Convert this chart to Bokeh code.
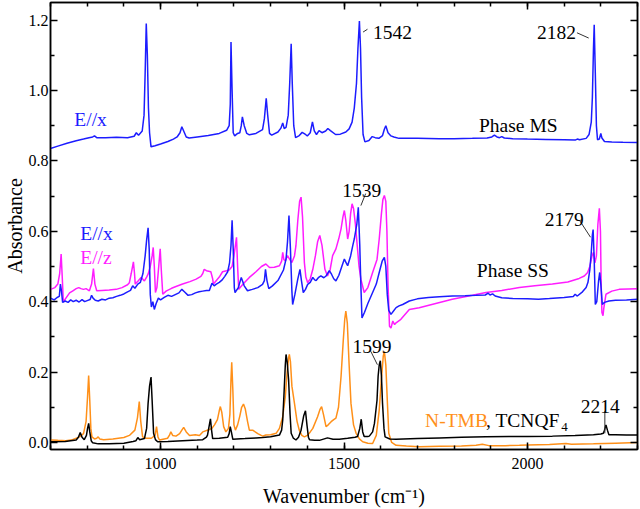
from bokeh.plotting import figure
from bokeh.models import FixedTicker, LinearAxis, PrintfTickFormatter, Range1d
from bokeh.core.properties import value
from bokeh.embed import file_html
from bokeh.resources import INLINE

FONT = "Liberation Serif"

BLUE = "#1c1cff"
MAGENTA = "#ff1cff"
ORANGE = "#ff9019"
BLACK = "#000000"

# ---------------- spectra: (wavenumber / cm^-1, absorbance) ----------------
# Phase MS, E//x
ms_ex = [
    (700, 0.835), (720, 0.842), (745, 0.850), (770, 0.857), (790, 0.862), (805, 0.866),
    (815, 0.868), (820, 0.871), (826, 0.866), (850, 0.866), (880, 0.867), (910, 0.866),
    (928, 0.870), (934, 0.880), (940, 0.873), (950, 0.885), (955, 0.930), (958, 1.050),
    (961, 1.190), (964, 1.100), (967, 0.950), (970, 0.880), (974, 0.840), (985, 0.843),
    (1000, 0.848), (1020, 0.855), (1035, 0.862), (1045, 0.868), (1053, 0.880), (1058, 0.897),
    (1063, 0.885), (1070, 0.868), (1078, 0.865), (1100, 0.868), (1130, 0.872), (1160, 0.878),
    (1180, 0.887), (1187, 0.900), (1190, 0.960), (1192, 1.138), (1195, 1.000), (1198, 0.880),
    (1202, 0.871), (1210, 0.878), (1216, 0.880), (1220, 0.900), (1223, 0.925), (1228, 0.900),
    (1235, 0.878), (1242, 0.874), (1260, 0.878), (1278, 0.889), (1283, 0.920), (1288, 0.978),
    (1292, 0.930), (1297, 0.878), (1303, 0.873), (1320, 0.882), (1328, 0.893), (1333, 0.908),
    (1337, 0.892), (1342, 0.895), (1348, 0.930), (1352, 1.020), (1356, 1.133), (1359, 1.020),
    (1363, 0.900), (1368, 0.866), (1378, 0.872), (1386, 0.881), (1395, 0.875), (1400, 0.871),
    (1408, 0.880), (1414, 0.911), (1419, 0.885), (1425, 0.875), (1432, 0.886), (1440, 0.880),
    (1450, 0.885), (1456, 0.892), (1463, 0.886), (1477, 0.875), (1490, 0.876), (1505, 0.882),
    (1514, 0.891), (1522, 0.910), (1528, 0.950), (1534, 1.020), (1538, 1.120), (1542, 1.197),
    (1545, 1.120), (1548, 0.980), (1552, 0.875), (1557, 0.854), (1568, 0.858), (1577, 0.869),
    (1585, 0.866), (1595, 0.864), (1605, 0.872), (1610, 0.890), (1614, 0.900), (1620, 0.880),
    (1628, 0.871), (1636, 0.868), (1650, 0.864), (1700, 0.864), (1760, 0.863), (1800, 0.863),
    (1850, 0.864), (1890, 0.865), (1903, 0.868), (1910, 0.873), (1917, 0.868), (1924, 0.866),
    (1930, 0.869), (1937, 0.865), (1960, 0.863), (2000, 0.862), (2050, 0.861), (2100, 0.860),
    (2130, 0.859), (2136, 0.862), (2142, 0.860), (2160, 0.864), (2168, 0.875), (2174, 0.910),
    (2177, 0.980), (2180, 1.120), (2182, 1.187), (2185, 1.050), (2188, 0.900), (2191, 0.860),
    (2196, 0.862), (2200, 0.878), (2203, 0.865), (2210, 0.855), (2230, 0.854), (2260, 0.853),
    (2300, 0.852),
]

# Phase SS, E//x
ss_ex = [
    (700, 0.410), (710, 0.405), (718, 0.412), (724, 0.415), (727, 0.450), (730, 0.430),
    (733, 0.398), (740, 0.402), (748, 0.398), (755, 0.405), (762, 0.400), (770, 0.404),
    (778, 0.399), (786, 0.406), (793, 0.400), (800, 0.403), (808, 0.406), (812, 0.418),
    (816, 0.410), (822, 0.404), (830, 0.402), (840, 0.407), (850, 0.405), (860, 0.410),
    (870, 0.411), (880, 0.415), (890, 0.418), (900, 0.422), (910, 0.428), (918, 0.432),
    (924, 0.445), (930, 0.438), (938, 0.450), (945, 0.455), (952, 0.480), (958, 0.530),
    (962, 0.575), (966, 0.610), (969, 0.550), (972, 0.420), (975, 0.385), (979, 0.400),
    (983, 0.378), (988, 0.395), (994, 0.410), (1000, 0.405), (1010, 0.412), (1020, 0.418),
    (1030, 0.415), (1040, 0.420), (1050, 0.425), (1058, 0.435), (1065, 0.428), (1075, 0.418),
    (1085, 0.420), (1095, 0.425), (1105, 0.428), (1115, 0.430), (1125, 0.432), (1133, 0.432),
    (1140, 0.452), (1146, 0.445), (1152, 0.450), (1160, 0.455), (1168, 0.462), (1175, 0.472),
    (1183, 0.485), (1188, 0.510), (1192, 0.560), (1195, 0.631), (1198, 0.550), (1201, 0.440),
    (1203, 0.426), (1212, 0.440), (1220, 0.469), (1228, 0.445), (1237, 0.431), (1250, 0.435),
    (1265, 0.440), (1278, 0.449), (1283, 0.460), (1286, 0.492), (1290, 0.460), (1295, 0.437),
    (1305, 0.445), (1320, 0.460), (1335, 0.490), (1342, 0.521), (1346, 0.570), (1350, 0.645),
    (1354, 0.550), (1358, 0.430), (1360, 0.392), (1366, 0.420), (1374, 0.464), (1380, 0.492),
    (1384, 0.460), (1389, 0.426), (1395, 0.435), (1401, 0.449), (1408, 0.455), (1415, 0.469),
    (1420, 0.462), (1424, 0.460), (1430, 0.468), (1437, 0.473), (1445, 0.468), (1451, 0.473),
    (1460, 0.488), (1466, 0.478), (1472, 0.465), (1478, 0.459), (1486, 0.475), (1494, 0.500),
    (1501, 0.521), (1506, 0.510), (1510, 0.502), (1518, 0.530), (1524, 0.560), (1528, 0.578),
    (1535, 0.620), (1539, 0.668), (1543, 0.560), (1546, 0.445), (1549, 0.354), (1556, 0.370),
    (1565, 0.395), (1578, 0.426), (1588, 0.450), (1596, 0.483), (1604, 0.515), (1610, 0.526),
    (1614, 0.500), (1618, 0.420), (1622, 0.375), (1628, 0.364), (1636, 0.375), (1642, 0.383),
    (1650, 0.388), (1660, 0.392), (1678, 0.402), (1700, 0.408), (1730, 0.412), (1760, 0.414),
    (1795, 0.416), (1830, 0.417), (1860, 0.418), (1885, 0.419), (1893, 0.424), (1898, 0.419),
    (1905, 0.422), (1912, 0.416), (1930, 0.411), (1960, 0.409), (2000, 0.408), (2030, 0.407),
    (2060, 0.409), (2100, 0.412), (2125, 0.415), (2130, 0.421), (2136, 0.416), (2150, 0.428),
    (2160, 0.440), (2165, 0.455), (2170, 0.490), (2174, 0.540), (2177, 0.590), (2179, 0.605),
    (2182, 0.520), (2185, 0.392), (2189, 0.400), (2194, 0.460), (2197, 0.483), (2200, 0.450),
    (2204, 0.392), (2210, 0.398), (2222, 0.402), (2240, 0.404), (2270, 0.405), (2300, 0.407),
]

# Phase SS, E//z
ss_ez = [
    (700, 0.435), (712, 0.440), (720, 0.450), (725, 0.480), (729, 0.535), (732, 0.470),
    (735, 0.399), (742, 0.410), (752, 0.425), (761, 0.431), (770, 0.437), (777, 0.440),
    (783, 0.437), (790, 0.435), (797, 0.437), (806, 0.431), (812, 0.450), (817, 0.494),
    (821, 0.450), (826, 0.431), (840, 0.432), (860, 0.433), (879, 0.435), (895, 0.440),
    (910, 0.448), (915, 0.454), (920, 0.480), (926, 0.513), (929, 0.480), (931, 0.450),
    (940, 0.460), (947, 0.469), (953, 0.462), (956, 0.459), (962, 0.470), (966, 0.478),
    (972, 0.500), (977, 0.530), (980, 0.554), (983, 0.500), (986, 0.426), (990, 0.440),
    (995, 0.500), (999, 0.550), (1002, 0.490), (1006, 0.421), (1015, 0.430), (1030, 0.438),
    (1042, 0.443), (1060, 0.450), (1080, 0.457), (1097, 0.464), (1110, 0.472), (1115, 0.480),
    (1119, 0.492), (1125, 0.488), (1137, 0.485), (1142, 0.465), (1144, 0.450), (1151, 0.459),
    (1160, 0.470), (1169, 0.485), (1180, 0.488), (1187, 0.490), (1195, 0.500), (1200, 0.530),
    (1204, 0.560), (1207, 0.583), (1210, 0.500), (1213, 0.435), (1225, 0.450), (1242, 0.469),
    (1260, 0.485), (1275, 0.500), (1287, 0.507), (1297, 0.497), (1310, 0.498), (1324, 0.502),
    (1330, 0.515), (1333, 0.540), (1336, 0.520), (1340, 0.516), (1346, 0.531), (1352, 0.520),
    (1358, 0.511), (1365, 0.530), (1369, 0.559), (1374, 0.630), (1379, 0.685), (1383, 0.697),
    (1387, 0.640), (1392, 0.511), (1396, 0.470), (1401, 0.454), (1408, 0.465), (1415, 0.492),
    (1422, 0.530), (1428, 0.570), (1434, 0.588), (1440, 0.560), (1448, 0.492), (1455, 0.473),
    (1462, 0.490), (1469, 0.531), (1478, 0.550), (1486, 0.580), (1492, 0.607), (1497, 0.640),
    (1501, 0.659), (1505, 0.630), (1510, 0.578), (1514, 0.600), (1518, 0.650), (1522, 0.678),
    (1526, 0.665), (1531, 0.621), (1536, 0.560), (1541, 0.500), (1546, 0.464), (1555, 0.426),
    (1565, 0.440), (1578, 0.483), (1590, 0.520), (1596, 0.578), (1602, 0.650), (1606, 0.690),
    (1610, 0.702), (1614, 0.685), (1617, 0.600), (1620, 0.450), (1624, 0.330), (1628, 0.325),
    (1633, 0.345), (1638, 0.335), (1642, 0.340), (1655, 0.350), (1678, 0.378), (1705, 0.383),
    (1750, 0.395), (1795, 0.407), (1850, 0.418), (1887, 0.426), (1930, 0.432), (1978, 0.440),
    (2020, 0.445), (2068, 0.450), (2110, 0.456), (2141, 0.466), (2155, 0.473), (2164, 0.483),
    (2170, 0.500), (2176, 0.530), (2180, 0.540), (2184, 0.510), (2188, 0.530), (2192, 0.620),
    (2196, 0.665), (2199, 0.600), (2201, 0.450), (2203, 0.369), (2206, 0.360), (2208, 0.380),
    (2214, 0.421), (2230, 0.430), (2250, 0.435), (2300, 0.437),
]

# N-TMB reference
ntmb = [
    (700, 0.007), (720, 0.006), (742, 0.005), (760, 0.008), (779, 0.016), (790, 0.025),
    (797, 0.060), (801, 0.130), (804, 0.190), (807, 0.120), (810, 0.040), (813, 0.016),
    (820, 0.010), (826, 0.012), (830, 0.016), (834, 0.010), (845, 0.008), (870, 0.010),
    (900, 0.014), (915, 0.020), (930, 0.035), (937, 0.070), (942, 0.116), (946, 0.060),
    (951, 0.016), (960, 0.012), (975, 0.012), (985, 0.020), (989, 0.045), (993, 0.015),
    (997, 0.007), (1010, 0.010), (1019, 0.012), (1024, 0.020), (1028, 0.030), (1033, 0.020),
    (1042, 0.018), (1052, 0.025), (1058, 0.035), (1063, 0.043), (1070, 0.030), (1079, 0.020),
    (1095, 0.022), (1106, 0.020), (1115, 0.030), (1133, 0.037), (1140, 0.040), (1147, 0.050),
    (1155, 0.065), (1160, 0.090), (1163, 0.102), (1167, 0.085), (1172, 0.045), (1178, 0.030),
    (1185, 0.040), (1189, 0.080), (1192, 0.180), (1194, 0.228), (1197, 0.150), (1200, 0.050),
    (1204, 0.035), (1210, 0.050), (1216, 0.075), (1221, 0.100), (1226, 0.109), (1231, 0.095),
    (1237, 0.060), (1242, 0.035), (1251, 0.035), (1265, 0.025), (1278, 0.018), (1287, 0.021),
    (1300, 0.022), (1315, 0.026), (1324, 0.040), (1333, 0.073), (1340, 0.130), (1345, 0.200),
    (1349, 0.240), (1351, 0.250), (1354, 0.230), (1358, 0.160), (1365, 0.111), (1372, 0.060),
    (1378, 0.035), (1385, 0.020), (1392, 0.016), (1400, 0.020), (1408, 0.030), (1415, 0.040),
    (1428, 0.073), (1435, 0.095), (1439, 0.102), (1444, 0.080), (1451, 0.045), (1457, 0.050),
    (1465, 0.059), (1472, 0.065), (1478, 0.069), (1485, 0.100), (1492, 0.188), (1498, 0.290),
    (1502, 0.350), (1505, 0.373), (1509, 0.340), (1514, 0.220), (1519, 0.111), (1526, 0.050),
    (1533, 0.026), (1542, 0.010), (1551, 0.002), (1565, -0.002), (1578, -0.003), (1588, 0.020),
    (1596, 0.092), (1602, 0.180), (1607, 0.245), (1610, 0.259), (1614, 0.220), (1618, 0.120),
    (1622, 0.026), (1630, 0.000), (1642, -0.008), (1670, -0.010), (1705, -0.012), (1760, -0.011),
    (1820, -0.010), (1860, -0.008), (1877, -0.005), (1895, -0.009), (1940, -0.009), (1978, -0.008),
    (2000, -0.007), (2060, -0.006), (2105, -0.003), (2120, -0.005), (2180, -0.004), (2240, -0.002),
    (2300, 0.000),
]

# TCNQF4 reference
tcnqf4 = [
    (700, 0.002), (740, 0.003), (770, 0.007), (776, 0.015), (781, 0.028), (786, 0.015),
    (792, 0.008), (798, 0.020), (801, 0.040), (804, 0.054), (807, 0.030), (811, 0.005),
    (815, -0.001), (830, -0.004), (860, -0.004), (900, -0.002), (925, 0.003), (933, 0.005),
    (938, 0.014), (943, 0.008), (956, 0.011), (962, 0.040), (966, 0.111), (970, 0.160),
    (974, 0.186), (977, 0.120), (981, 0.026), (986, 0.008), (992, 0.002), (1020, 0.003),
    (1060, 0.005), (1100, 0.007), (1115, 0.008), (1125, 0.015), (1128, 0.021), (1133, 0.050),
    (1136, 0.067), (1139, 0.035), (1142, 0.011), (1160, 0.012), (1183, 0.015), (1187, 0.025),
    (1190, 0.045), (1193, 0.030), (1197, 0.009), (1230, 0.011), (1260, 0.013), (1278, 0.014),
    (1300, 0.016), (1324, 0.021), (1330, 0.035), (1333, 0.064), (1337, 0.150), (1340, 0.220),
    (1342, 0.250), (1345, 0.230), (1349, 0.178), (1353, 0.080), (1356, 0.026), (1362, 0.012),
    (1369, 0.007), (1376, 0.015), (1383, 0.035), (1390, 0.075), (1395, 0.090), (1399, 0.050),
    (1403, 0.015), (1406, 0.008), (1420, 0.006), (1433, 0.006), (1455, 0.013), (1470, 0.009),
    (1487, 0.009), (1510, 0.012), (1530, 0.015), (1537, 0.017), (1543, 0.040), (1547, 0.066),
    (1551, 0.030), (1555, 0.017), (1565, 0.017), (1569, 0.018), (1578, 0.030), (1583, 0.054),
    (1590, 0.120), (1593, 0.188), (1596, 0.220), (1599, 0.232), (1602, 0.190), (1605, 0.111),
    (1609, 0.040), (1612, 0.016), (1625, 0.010), (1642, 0.009), (1700, 0.011), (1760, 0.013),
    (1820, 0.015), (1887, 0.016), (1950, 0.017), (2000, 0.017), (2068, 0.018), (2130, 0.020),
    (2180, 0.022), (2200, 0.024), (2207, 0.026), (2210, 0.035), (2214, 0.050), (2218, 0.035),
    (2222, 0.022), (2240, 0.022), (2270, 0.021), (2300, 0.021),
]

# ---------------- annotations ----------------
# text labels: (wavenumber, absorbance at baseline, text, colour)
labels = [
    (765, 0.919, "E//x", BLUE),
    (1868, 0.900, "Phase MS", BLACK),
    (1579, 1.166, "1542", BLACK),
    (2026, 1.166, "2182", BLACK),
    (781, 0.595, "E//x", BLUE),
    (781, 0.525, "E//z", MAGENTA),
    (1495, 0.716, "1539", BLACK),
    (2047, 0.634, "2179", BLACK),
    (1862, 0.488, "Phase SS", BLACK),
    (1523, 0.273, "1599", BLACK),
    (2145, 0.102, "2214", BLACK),
    (1721, 0.063, "N-TMB", ORANGE),
    (1887, 0.063, ", TCNQF", BLACK),
]
subscripts = [(2092, 0.043, "4", BLACK)]

# peak leader lines: (x0, y0, x1, y1)
leaders = [
    (1552, 1.166, 1564, 1.174),
    (2135, 1.164, 2167, 1.149),
    (1559, 0.707, 1546, 0.673),
    (2142, 0.631, 2172, 0.583),
    (1573, 0.259, 1591, 0.221),
    (2211, 0.089, 2211, 0.026),
]

# ---------------- axes ----------------
x_major = [1000, 1500, 2000]
x_minor = list(range(700, 2301, 100))
y_major = [0.0, 0.2, 0.4, 0.6, 0.8, 1.0, 1.2]
y_minor = [0.1, 0.3, 0.5, 0.7, 0.9, 1.1]

p = figure(
    width=640, height=509,
    x_range=Range1d(700, 2300), y_range=Range1d(-0.02, 1.25),
    output_backend="svg", toolbar_location=None,
    min_border_left=0, min_border_right=3, min_border_top=2, min_border_bottom=0,
)
p.background_fill_color = "white"
p.border_fill_color = "white"
p.outline_line_color = "black"
p.outline_line_width = 1.5
p.xgrid.visible = False
p.ygrid.visible = False

xt = FixedTicker(ticks=x_major, minor_ticks=x_minor)
yt = FixedTicker(ticks=y_major, minor_ticks=y_minor)

bottom = p.below[0]
left = p.left[0]
bottom.ticker = xt
left.ticker = yt
left.formatter = PrintfTickFormatter(format="%.1f")

# mirrored tick marks on the right and top edges of the frame
right = LinearAxis(ticker=yt, major_label_overrides={t: "" for t in y_major},
                   major_label_text_font_size="1px", major_label_standoff=0)
p.add_layout(right, "right")
top = LinearAxis(ticker=xt, major_label_overrides={t: "" for t in x_major},
                 major_label_text_font_size="1px", major_label_standoff=0)
p.add_layout(top, "above")

for ax in [bottom, left, top, right]:
    ax.major_tick_in = 7
    ax.major_tick_out = 0
    ax.minor_tick_in = 4
    ax.minor_tick_out = 0
    ax.axis_line_width = 1.5
    ax.major_tick_line_width = 1.5
    ax.minor_tick_line_width = 1.5
    ax.axis_line_color = "black"
    ax.major_tick_line_color = "black"
    ax.minor_tick_line_color = "black"

for ax in [bottom, left]:
    ax.major_label_text_font = FONT
    ax.major_label_text_font_size = "16px"
    ax.major_label_text_color = "black"
    ax.axis_label_text_font = FONT
    ax.axis_label_text_font_size = "20px"
    ax.axis_label_text_font_style = "normal"
    ax.axis_label_text_color = "black"

bottom.axis_label = "Wavenumber (cm\u207b\u00b9)"
bottom.major_label_standoff = 8
bottom.axis_label_standoff = 13
left.axis_label = "Absorbance"
left.major_label_standoff = 2
left.axis_label_standoff = 0

# ---------------- spectra ----------------
for data, color in [
    (ms_ex, BLUE),
    (ss_ez, MAGENTA),
    (ss_ex, BLUE),
    (ntmb, ORANGE),
    (tcnqf4, BLACK),
]:
    wn, ab = zip(*data)
    p.line(list(wn), list(ab), line_color=color, line_width=1.5)

# ---------------- annotation glyphs ----------------
lx0, ly0, lx1, ly1 = zip(*leaders)
p.segment(x0=list(lx0), y0=list(ly0), x1=list(lx1), y1=list(ly1),
          line_color="#333333", line_width=1)

tx, ty, tt, tc = zip(*labels)
p.text(x=list(tx), y=list(ty), text=list(tt), text_color=list(tc),
       text_font=value(FONT), text_font_size=value("19.5px"),
       text_baseline="alphabetic", text_align="left")

sx, sy, st, sc = zip(*subscripts)
p.text(x=list(sx), y=list(sy), text=list(st), text_color=list(sc),
       text_font=value(FONT), text_font_size=value("13px"),
       text_baseline="alphabetic", text_align="left")

open("out.html", "w").write(file_html(p, INLINE))
